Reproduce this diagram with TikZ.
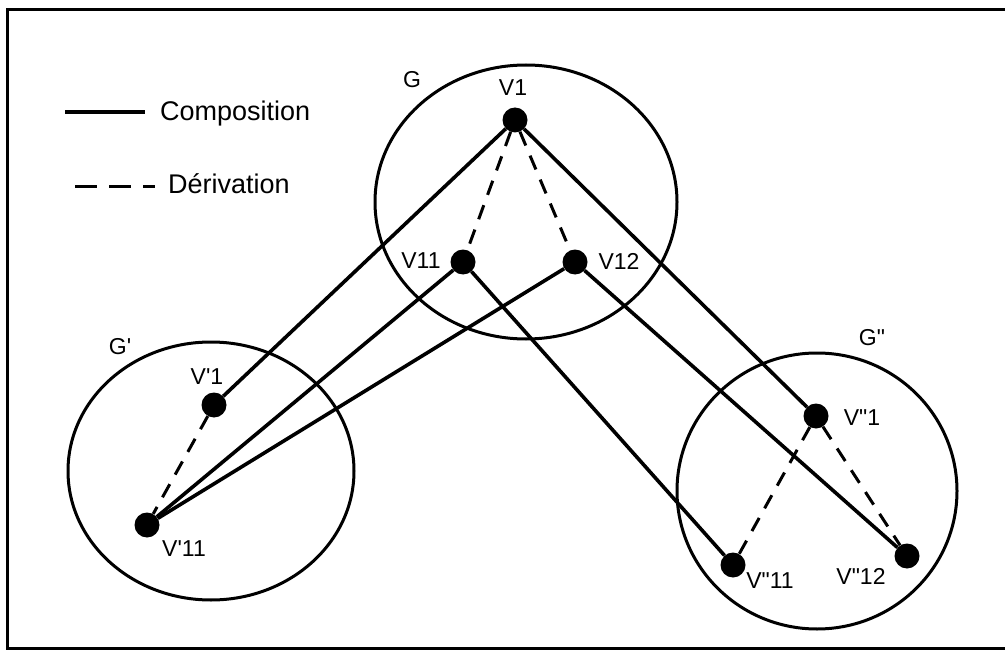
\documentclass[tikz,border=0pt]{standalone}
\usepackage{fontspec}
\setmainfont{Liberation Sans}
\usetikzlibrary{positioning}

\newcommand{\sq}{{\XeTeXglyph\XeTeXglyphindex "quotesingle"\relax}}
\newcommand{\dq}{{\XeTeXglyph\XeTeXglyphindex "quotedbl"\relax}}

\tikzset{
  vertex/.style={circle, fill=black, inner sep=0pt, minimum size=25pt},
  vlabel/.style={font=\fontsize{23}{27}\selectfont, inner sep=0pt},
  legtext/.style={font=\fontsize{27}{32}\selectfont, inner sep=0pt, anchor=base west},
  compo/.style={line width=3.6pt},
  deriv/.style={line width=3pt, dash pattern=on 15pt off 11pt},
  graphe/.style={line width=3pt},
}

\begin{document}
\begin{tikzpicture}[x=1pt, y=-1pt]
\useasboundingbox (0,0) rectangle (1005,650);
\draw[line width=3pt] (1012,10) -- (7,10) -- (7,648) -- (1012,648);

% legende
\coordinate (c1) at (65,112);
\coordinate (c2) at (145,112);
\draw[compo] (c1) -- (c2);
\node[legtext] (tcompo) at (160,121) {Composition};
\coordinate (d1) at (75,187);
\coordinate (d2) at (155,187);
\draw[deriv, dash pattern=on 22pt off 12pt] (d1) -- (d2);
\node[legtext] (tderiv) at (168,194) {Dérivation};

% les trois graphes
\draw[graphe] (526,202) ellipse [x radius=151pt, y radius=137pt];
\draw[graphe] (211,471) ellipse [x radius=143pt, y radius=129pt];
\draw[graphe] (817,491) ellipse [x radius=140pt, y radius=138pt];
\node[vlabel] (lg) at (412,80) {G};
\node[vlabel] (lgp) at (120,347) {G\sq};
\node[vlabel] (lgs) at (872,338) {G\dq};

% sommets
\node[vertex] (v1) at (515,120) {};
\node[vertex] (v11) at (463,262) {};
\node[vertex] (v12) at (575,262) {};
\node[vertex] (vp1) at (214,405) {};
\node[vertex] (vp11) at (147,525) {};
\node[vertex] (vs1) at (816,416) {};
\node[vertex] (vs11) at (733,565) {};
\node[vertex] (vs12) at (907,556) {};

\node[vlabel] (lv1) at (513,88) {V1};
\node[vlabel] (lv11) at (421,261) {V11};
\node[vlabel] (lv12) at (619,261) {V12};
\node[vlabel] (lvp1) at (207,377) {V\sq1};
\node[vlabel] (lvp11) at (184,549) {V\sq11};
\node[vlabel] (lvs1) at (862,418) {V\dq1};
\node[vlabel] (lvs11) at (770,581) {V\dq11};
\node[vlabel] (lvs12) at (861,576) {V\dq12};

% composition
\draw[compo] (v1) -- (vp1);
\draw[compo] (v1) -- (vs1);
\draw[compo] (v11) -- (vp11);
\draw[compo] (v12) -- (vp11);
\draw[compo] (v11) -- (vs11);
\draw[compo] (v12) -- (vs12);

% derivation
\draw[deriv] (v1) -- (v11);
\draw[deriv] (v1) -- (v12);
\draw[deriv] (vp1) -- (vp11);
\draw[deriv] (vs1) -- (vs11);
\draw[deriv] (vs1) -- (vs12);

\end{tikzpicture}
\end{document}
